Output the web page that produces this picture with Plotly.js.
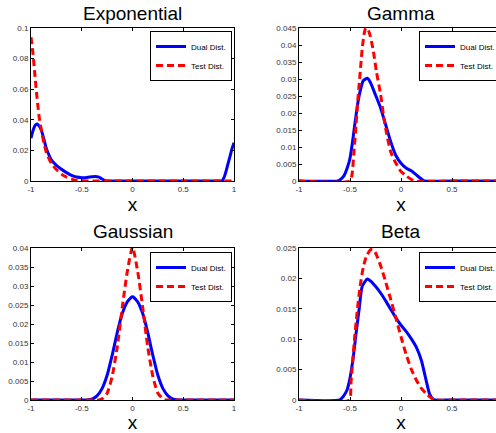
<!DOCTYPE html>
<html>
<head>
<meta charset="utf-8">
<script src="https://cdn.plot.ly/plotly-3.0.1.min.js"></script>
<style>
html, body { margin: 0; padding: 0; overflow: hidden; background: #fff; }
#chart { width: 520px; height: 433px; }
</style>
</head>
<body>
<div id="chart"></div>
<script>
// ---------- data ----------
const panelTitles = ["Exponential", "Gamma", "Gaussian", "Beta"];
const seriesNames = ["Dual Dist.", "Test Dist."];
const xTickVals = [-1, -0.5, 0, 0.5, 1];
const xTickText = ["-1", "-0.5", "0", "0.5", "1"];

const expYTicks = [0, 0.02, 0.04, 0.06, 0.08, 0.1];
const expYTickText = ["0", "0.02", "0.04", "0.06", "0.08", "0.1"];
const gamYTicks = [0, 0.005, 0.01, 0.015, 0.02, 0.025, 0.03, 0.035, 0.04, 0.045];
const gamYTickText = ["0", "0.005", "0.01", "0.015", "0.02", "0.025", "0.03", "0.035", "0.04", "0.045"];
const gauYTicks = [0, 0.005, 0.01, 0.015, 0.02, 0.025, 0.03, 0.035, 0.04];
const gauYTickText = ["0", "0.005", "0.01", "0.015", "0.02", "0.025", "0.03", "0.035", "0.04"];
const betYTicks = [0, 0.005, 0.01, 0.015, 0.02, 0.025];
const betYTickText = ["0", "0.005", "0.01", "0.015", "0.02", "0.025"];

// Exponential
const expDualX = [-1, -0.98, -0.96, -0.94, -0.92, -0.9, -0.88, -0.85, -0.82, -0.8, -0.75, -0.7, -0.65, -0.6, -0.55, -0.5, -0.45, -0.4, -0.37, -0.33, -0.3, -0.27, -0.25, 0, 0.5, 0.85, 0.88, 0.9, 0.92, 0.94, 0.96, 0.98, 1];
const expDualY = [0.028, 0.033, 0.0363, 0.0372, 0.036, 0.0335, 0.0292, 0.0215, 0.0165, 0.0138, 0.0102, 0.0077, 0.0055, 0.0037, 0.0026, 0.0022, 0.0023, 0.0028, 0.003, 0.0025, 0.0013, 0.0003, 0, 0, 0, 0, 0, 0.002, 0.006, 0.011, 0.016, 0.021, 0.025];
const expTestX = [-1, -0.98, -0.96, -0.94, -0.92, -0.9, -0.88, -0.85, -0.8, -0.75, -0.7, -0.65, -0.6, -0.55, -0.5, -0.45, 0, 0.5, 1];
const expTestY = [0.094, 0.083, 0.068, 0.054, 0.042, 0.034, 0.027, 0.019, 0.0115, 0.0075, 0.0045, 0.0025, 0.0012, 0.0004, 0.0001, 0, 0, 0, 0];

// Gamma
const gamDualX = [-1, -0.62, -0.6, -0.56, -0.52, -0.5, -0.48, -0.46, -0.44, -0.42, -0.4, -0.37, -0.33, -0.3, -0.25, -0.2, -0.15, -0.1, -0.05, 0, 0.05, 0.1, 0.15, 0.2, 0.23, 0.5, 1];
const gamDualY = [0, 0, 0.0003, 0.0015, 0.0045, 0.0067, 0.0105, 0.015, 0.0195, 0.0235, 0.0265, 0.0295, 0.0302, 0.029, 0.0253, 0.0215, 0.0165, 0.0115, 0.0075, 0.0052, 0.0038, 0.003, 0.0018, 0.0006, 0, 0, 0];
const gamTestX = [-1, -0.5, -0.48, -0.46, -0.44, -0.42, -0.4, -0.38, -0.36, -0.345, -0.32, -0.3, -0.27, -0.24, -0.2, -0.17, -0.14, -0.1, -0.05, 0, 0.05, 0.1, 0.13, 0.5, 1];
const gamTestY = [0, 0, 0.002, 0.009, 0.017, 0.025, 0.032, 0.039, 0.0435, 0.045, 0.0443, 0.0425, 0.038, 0.032, 0.0255, 0.019, 0.0138, 0.0085, 0.0052, 0.0028, 0.0015, 0.0005, 0, 0, 0];

// Gaussian
const gauDualX = [-1, -0.5, -0.45, -0.4, -0.35, -0.3, -0.25, -0.2, -0.15, -0.1, -0.05, 0, 0.05, 0.1, 0.15, 0.2, 0.25, 0.3, 0.35, 0.4, 0.45, 0.5, 1];
const gauDualY = [0, 0, 0, 0.0002, 0.0011, 0.003, 0.0065, 0.0118, 0.0178, 0.0228, 0.0259, 0.0272, 0.0259, 0.0228, 0.0178, 0.0118, 0.0065, 0.003, 0.0011, 0.0002, 0, 0, 0];
const gauTestX = [-1, -0.4, -0.33, -0.3, -0.25, -0.2, -0.15, -0.1, -0.05, 0, 0.05, 0.1, 0.15, 0.2, 0.25, 0.3, 0.33, 0.4, 1];
const gauTestY = [0, 0, 0, 0.0003, 0.0018, 0.0063, 0.014, 0.0245, 0.034, 0.0402, 0.034, 0.0245, 0.014, 0.0063, 0.0018, 0.0003, 0, 0, 0];

// Beta
const betDualX = [-1, -0.6, -0.57, -0.53, -0.5, -0.47, -0.44, -0.41, -0.38, -0.33, -0.3, -0.25, -0.2, -0.15, -0.1, -0.05, 0, 0.05, 0.1, 0.15, 0.2, 0.24, 0.28, 0.31, 0.33, 0.5, 1];
const betDualY = [0, 0, 0.0005, 0.0016, 0.0036, 0.0068, 0.011, 0.015, 0.0187, 0.0199, 0.0196, 0.0187, 0.0176, 0.0163, 0.0149, 0.0135, 0.0123, 0.0113, 0.0101, 0.0087, 0.0065, 0.0037, 0.001, 0.0002, 0, 0, 0];
const betTestX = [-1, -0.51, -0.49, -0.46, -0.43, -0.4, -0.37, -0.34, -0.3, -0.28, -0.25, -0.2, -0.15, -0.1, -0.05, 0, 0.05, 0.1, 0.15, 0.2, 0.25, 0.3, 0.35, 0.5, 1];
const betTestY = [0, 0, 0.003, 0.0092, 0.0145, 0.0188, 0.0218, 0.0236, 0.0247, 0.0248, 0.0242, 0.0221, 0.0194, 0.0165, 0.0135, 0.0104, 0.0075, 0.0051, 0.0033, 0.0019, 0.001, 0.0003, 0, 0, 0];

// ---------- layout helpers ----------
const W = 520, H = 433;
const FONT = "Liberation Sans, Arial, Helvetica, sans-serif";
const colL = [31 / W, 234 / W];
const colR = [299 / W, 503 / W];
const rowT = [1 - 181 / H, 1 - 28 / H];
const rowB = [1 - 400 / H, 1 - 248 / H];

function xAxis(domain, anchor) {
  return {
    domain: domain, anchor: anchor, range: [-1, 1],
    tickmode: "array", tickvals: xTickVals, ticktext: xTickText,
    ticks: "inside", ticklen: 3, tickcolor: "#000",
    showline: true, linecolor: "#000", linewidth: 1, mirror: "ticks",
    showgrid: false, zeroline: false, automargin: false,
    tickfont: { family: FONT, size: 8, color: "#333" },
    title: { text: "x", font: { family: FONT, size: 19, color: "#000" }, standoff: 0 }
  };
}
function yAxis(domain, anchor, maxV, vals, text) {
  return {
    domain: domain, anchor: anchor, range: [0, maxV],
    tickmode: "array", tickvals: vals, ticktext: text,
    ticks: "inside", ticklen: 3, tickcolor: "#000",
    showline: true, linecolor: "#000", linewidth: 1, mirror: "ticks",
    showgrid: false, zeroline: false, automargin: false,
    tickfont: { family: FONT, size: 8, color: "#333" }
  };
}
function legendAt(x, xanchor, ytop) {
  return {
    x: x, xanchor: xanchor, y: ytop, yanchor: "top",
    bgcolor: "#fff", bordercolor: "#000", borderwidth: 1,
    font: { family: FONT, size: 8, color: "#000" },
    itemwidth: 30, tracegroupgap: 0, itemclick: false
  };
}

const blue = { color: "#0000ff", width: 3, shape: "spline", smoothing: 0.6 };
const red = { color: "#ff0000", width: 3, dash: "7px,4px", shape: "spline", smoothing: 0.6 };

function pair(dx, dy, tx, ty, xa, ya, leg) {
  return [
    { x: dx, y: dy, type: "scatter", mode: "lines", name: seriesNames[0], line: blue, xaxis: xa, yaxis: ya, legend: leg },
    { x: tx, y: ty, type: "scatter", mode: "lines", name: seriesNames[1], line: red, xaxis: xa, yaxis: ya, legend: leg }
  ];
}

const data = [].concat(
  pair(expDualX, expDualY, expTestX, expTestY, "x", "y", "legend"),
  pair(gamDualX, gamDualY, gamTestX, gamTestY, "x2", "y2", "legend2"),
  pair(gauDualX, gauDualY, gauTestX, gauTestY, "x3", "y3", "legend3"),
  pair(betDualX, betDualY, betTestX, betTestY, "x4", "y4", "legend4")
);

function titleAnn(text, domain, ypx) {
  return {
    text: text, xref: "paper", yref: "paper",
    x: (domain[0] + domain[1]) / 2, xanchor: "center",
    y: 1 - ypx / H, yanchor: "middle", showarrow: false,
    font: { family: FONT, size: 19, color: "#000" }
  };
}

const layout = {
  width: W, height: H,
  margin: { l: 0, r: 0, t: 0, b: 0 },
  paper_bgcolor: "#fff", plot_bgcolor: "#fff",
  showlegend: true,
  xaxis: xAxis(colL, "y"), yaxis: yAxis(rowT, "x", 0.1, expYTicks, expYTickText),
  xaxis2: xAxis(colR, "y2"), yaxis2: yAxis(rowT, "x2", 0.045, gamYTicks, gamYTickText),
  xaxis3: xAxis(colL, "y3"), yaxis3: yAxis(rowB, "x3", 0.04, gauYTicks, gauYTickText),
  xaxis4: xAxis(colR, "y4"), yaxis4: yAxis(rowB, "x4", 0.025, betYTicks, betYTickText),
  legend: legendAt(232 / W, "right", 1 - 31 / H),
  legend2: legendAt(419 / W, "left", 1 - 31 / H),
  legend3: legendAt(232 / W, "right", 1 - 252 / H),
  legend4: legendAt(419 / W, "left", 1 - 252 / H),
  annotations: [
    titleAnn(panelTitles[0], colL, 13),
    titleAnn(panelTitles[1], colR, 13),
    titleAnn(panelTitles[2], colL, 231),
    titleAnn(panelTitles[3], colR, 231)
  ]
};

Plotly.newPlot("chart", data, layout, { staticPlot: true, displayModeBar: false });
</script>
</body>
</html>
